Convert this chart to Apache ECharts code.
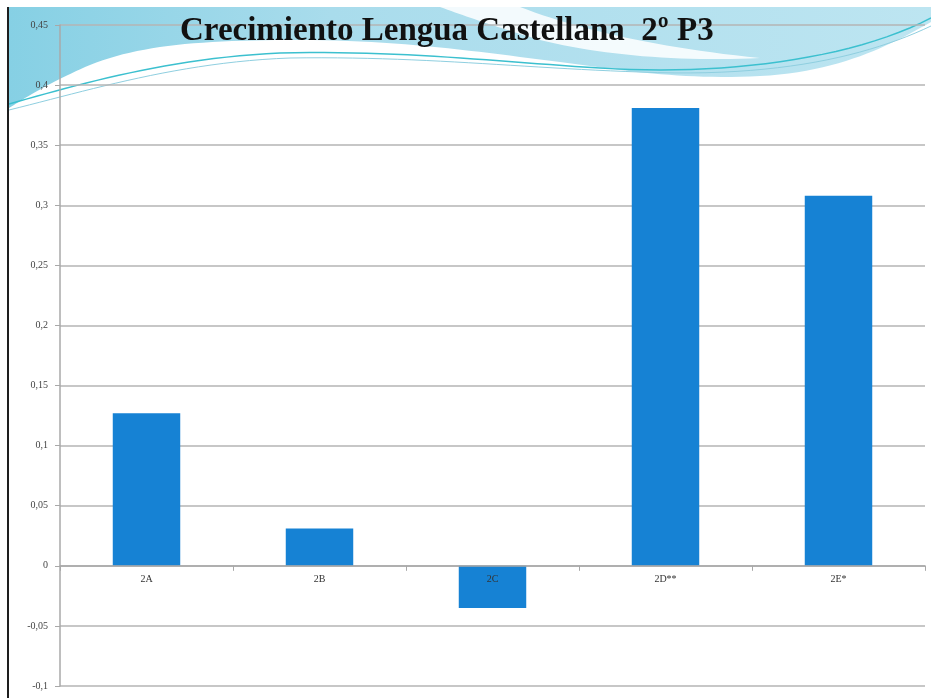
<!DOCTYPE html>
<html>
<head>
<meta charset="utf-8">
<script src="https://cdn.jsdelivr.net/npm/echarts@6/dist/echarts.min.js"></script>
<style>
html,body{margin:0;padding:0;background:#fff;}
#chart{width:931px;height:698px;}
</style>
</head>
<body>
<div id="chart"></div>
<script>
const titleText = 'Crecimiento Lengua Castellana  2º P3';
const categories = ['2A', '2B', '2C', '2D**', '2E*'];
const values = [0.127, 0.031, -0.035, 0.381, 0.308];
const yMin = -0.1, yMax = 0.45, yStep = 0.05;

const W = 931, H = 698;
const gridTop = 25, gridBottom = 12, gridLeft = 60, gridRight = 6;
const plotH = H - gridTop - gridBottom;
const zeroFromBottom = (0 - yMin) / (yMax - yMin) * plotH;

const chart = echarts.init(document.getElementById('chart'), null, {renderer: 'canvas'});
const serif = '"Liberation Serif", "DejaVu Serif", serif';

// decoration helper: sample a path made of lines [x,y] and cubics [c1x,c1y,c2x,c2y,x,y]
function trace(start, segs) {
  const pts = [start.slice()];
  let cur = start.slice();
  segs.forEach(s => {
    if (s.length === 2) { pts.push(s.slice()); cur = s.slice(); }
    else {
      for (let i = 1; i <= 24; i++) {
        const t = i / 24, u = 1 - t;
        const x = u*u*u*cur[0] + 3*u*u*t*s[0] + 3*u*t*t*s[2] + t*t*t*s[4];
        const y = u*u*u*cur[1] + 3*u*u*t*s[1] + 3*u*t*t*s[3] + t*t*t*s[5];
        pts.push([x, y]);
      }
      cur = [s[4], s[5]];
    }
  });
  return pts;
}

const bandFill = new echarts.graphic.LinearGradient(0, 0, 1, 0, [
  {offset: 0, color: '#86d0e4'}, {offset: 0.35, color: '#a9dcec'}, {offset: 1, color: '#bde5f1'}]);

chart.setOption({
  backgroundColor: '#ffffff',
  animation: false,
  graphic: [
    {
      type: 'polygon', z: 0, silent: true,
      shape: {points: trace([9,7], [[931,7],[931,22],[890,45,840,72,760,76],[680,80,620,70,560,62],[480,52,400,40,300,40],[200,40,140,45,90,65],[50,82,25,98,9,108]])},
      style: {fill: bandFill}
    },
    {
      type: 'polygon', z: 0, silent: true,
      shape: {points: trace([440,7], [[520,7],[580,30,660,48,760,58],[680,62,600,55,540,40],[500,28,470,18,440,7]])},
      style: {fill: 'rgba(255,255,255,0.85)'}
    },
    {
      type: 'polyline', z: 0, silent: true,
      shape: {points: trace([9,104], [[80,84,170,58,280,53],[400,50,500,62,600,68],[720,76,850,60,931,18]])},
      style: {stroke: '#3cc0cf', lineWidth: 1.5, fill: null}
    },
    {
      type: 'polyline', z: 0, silent: true,
      shape: {points: trace([9,110], [[90,90,180,62,290,58],[420,56,520,68,640,72],[780,78,870,55,931,26]])},
      style: {stroke: '#8fcfe0', lineWidth: 1, fill: null}
    },
    {
      type: 'rect', z: 10, silent: true,
      shape: {x: 7, y: 7, width: 2, height: 691},
      style: {fill: '#1e1e1e'}
    },
    {
      type: 'text', z: 20, silent: true,
      left: 180, top: 15,
      style: {text: titleText, font: 'bold 33px ' + serif, fill: '#111'}
    }
  ],
  grid: {left: gridLeft, right: gridRight, top: gridTop, bottom: gridBottom, containLabel: false, outerBoundsMode: 'none'},
  xAxis: {
    type: 'category',
    data: categories,
    position: 'bottom',
    offset: -zeroFromBottom,
    axisLine: {onZero: false, lineStyle: {color: '#a8a8a8', width: 1.5}},
    axisTick: {show: true, length: 5, lineStyle: {color: '#a8a8a8'}},
    axisLabel: {color: '#333', fontFamily: serif, fontSize: 10, margin: 9},
    z: 5
  },
  yAxis: {
    type: 'value',
    min: yMin, max: yMax, interval: yStep,
    axisLine: {show: true, lineStyle: {color: '#a8a8a8', width: 1.5}},
    axisTick: {show: true, length: 5, lineStyle: {color: '#a8a8a8'}},
    axisLabel: {
      color: '#444', fontFamily: serif, fontSize: 10, margin: 12,
      formatter: v => {
        const r = Math.round(v * 100) / 100;
        return String(r).replace('.', ',');
      }
    },
    splitLine: {lineStyle: {color: '#b5b5b5', width: 1.5}}
  },
  series: [{
    type: 'bar',
    data: values,
    barWidth: '39%',
    itemStyle: {color: '#1682d4'},
    z: 3
  }]
});
</script>
</body>
</html>
